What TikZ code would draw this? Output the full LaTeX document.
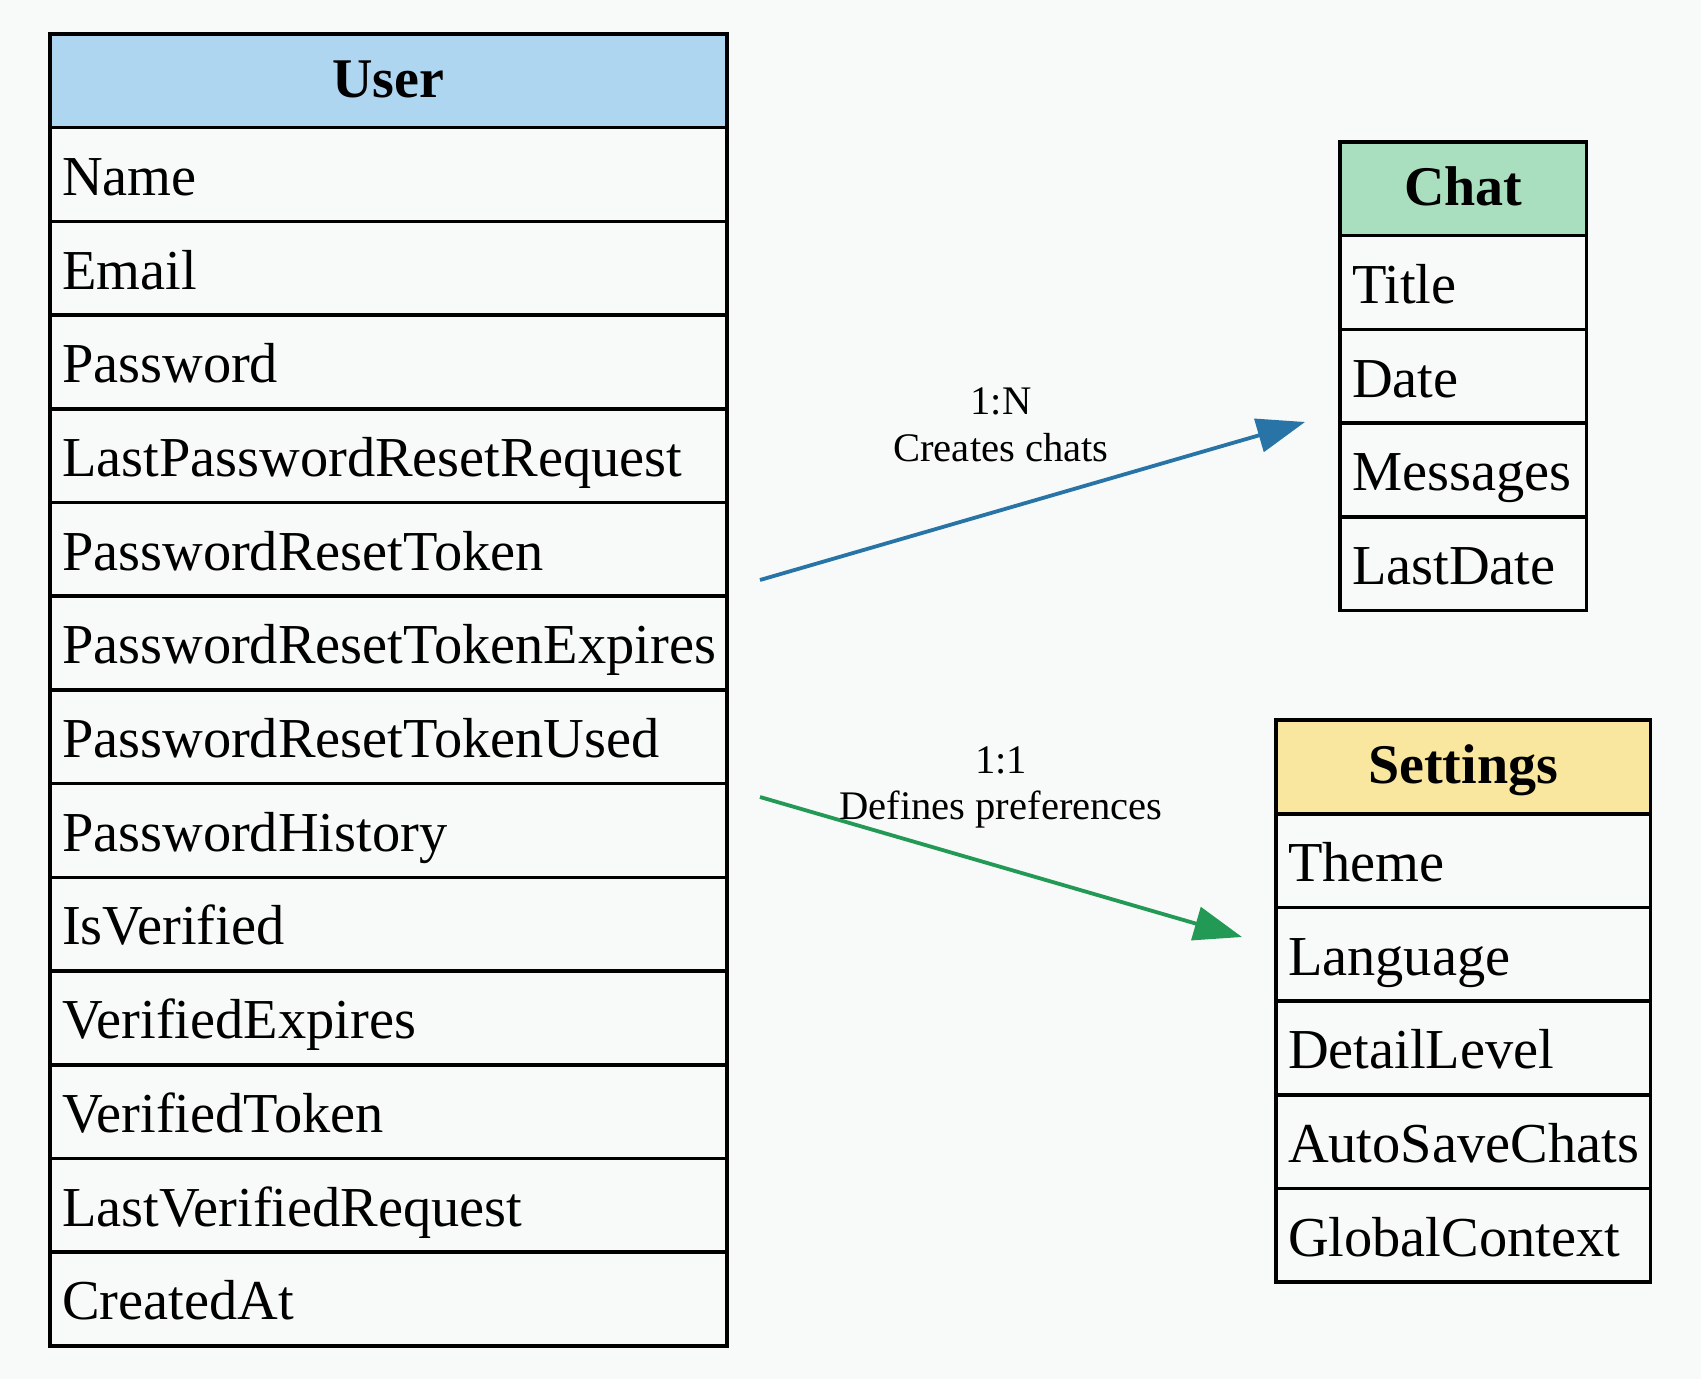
\documentclass[tikz,border=0pt]{standalone}
\usepackage{fontspec}
\setmainfont{Liberation Serif}
\usepackage{xcolor}
\usetikzlibrary{arrows.meta,positioning}

\definecolor{bgcol}{HTML}{F8F9F9}
\definecolor{usercol}{HTML}{AED6F1}
\definecolor{chatcol}{HTML}{A9DFBF}
\definecolor{setcol}{HTML}{F9E79F}
\definecolor{relblue}{HTML}{2874A6}
\definecolor{relgreen}{HTML}{229954}

\tikzset{
  tbl/.style={draw=black, line width=1.8pt, minimum height=46.85pt, inner ysep=0pt, outer sep=0pt},
  hdr/.style 2 args={tbl, fill=#1, text width=#2, inner xsep=0pt, align=center,
    font=\fontsize{28pt}{33.6pt}\selectfont\bfseries, text height=16.2pt, text depth=0pt},
  fld/.style={tbl, fill=bgcol, text width=#1, inner xsep=6pt, align=left,
    font=\fontsize{28.2pt}{33.6pt}\selectfont, text height=20.8pt, text depth=0pt},
  lbl/.style={font=\fontsize{20.3pt}{24pt}\selectfont, inner sep=0pt, anchor=base},
  rel/.style={draw=#1, line width=1.9pt, -{Triangle[length=24pt, width=17pt]}}
}

\begin{document}
\begin{tikzpicture}[x=0.5pt, y=-0.5pt]
    \fill[bgcol] (0,0) rectangle (1701,1379);
    \useasboundingbox (0,0) rectangle (1701,1379);

    % User table
    \node[hdr={usercol}{338.45pt}, anchor=north west] (user-0) at (50,34) {User};
    \foreach \f [count=\i] in {Name, Email, Password, LastPasswordResetRequest, PasswordResetToken,
        PasswordResetTokenExpires, PasswordResetTokenUsed, PasswordHistory, IsVerified,
        VerifiedExpires, VerifiedToken, LastVerifiedRequest, CreatedAt}{
      \pgfmathtruncatemacro\prev{\i-1}
      \node[fld=326.45pt, below=0pt of user-\prev] (user-\i) {\f};
    }

    % Chat table
    \node[hdr={chatcol}{123.15pt}, anchor=north west] (chat-0) at (1340,142) {Chat};
    \foreach \f [count=\i] in {Title, Date, Messages, LastDate}{
      \pgfmathtruncatemacro\prev{\i-1}
      \node[fld=111.15pt, below=0pt of chat-\prev] (chat-\i) {\f};
    }

    % Settings table
    \node[hdr={setcol}{187.15pt}, anchor=north west] (set-0) at (1276,720) {Settings};
    \foreach \f [count=\i] in {Theme, Language, DetailLevel, AutoSaveChats, GlobalContext}{
      \pgfmathtruncatemacro\prev{\i-1}
      \node[fld=175.15pt, below=0pt of set-\prev] (set-\i) {\f};
    }

    % relations
    \coordinate (chats-from) at (760,580);
    \coordinate (chats-to) at (1305,422);
    \coordinate (prefs-from) at (760,797);
    \coordinate (prefs-to) at (1242,937);
    \draw[rel=relblue] (chats-from) -- (chats-to);
    \draw[rel=relgreen] (prefs-from) -- (prefs-to);

    \node[lbl] (chats-card) at (1001,415) {1:N};
    \node[lbl] (chats-text) at (1001,462) {Creates chats};
    \node[lbl] (prefs-card) at (1001,773) {1:1};
    \node[lbl] (prefs-text) at (1001,819) {Defines preferences};
  \end{tikzpicture}
\end{document}
